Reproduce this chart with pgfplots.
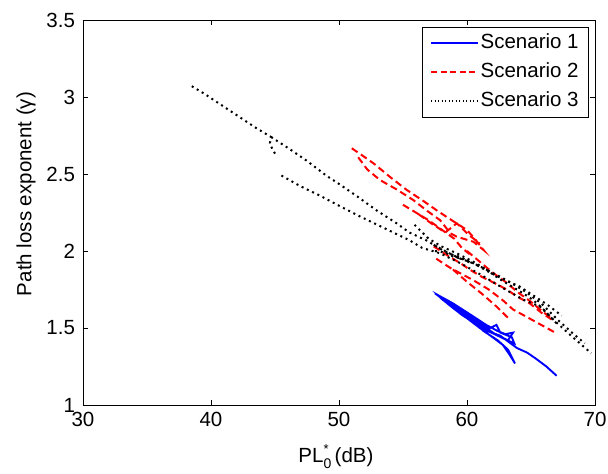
\documentclass[border=0pt]{standalone}
\usepackage{fontspec}
\setmainfont{Liberation Sans}
\usepackage{pgfplots}
\pgfplotsset{compat=1.18}
\tikzset{
  sa/.style={color=blue, line width=1.9pt, solid},
  sb/.style={color=red, line width=2pt, dash pattern=on 7pt off 4pt},
  sc/.style={color=black, line width=2pt, dash pattern=on 2pt off 3.8pt},
}
\newcommand{\ff}{\fontsize{20.5}{24}\selectfont}
\begin{document}
\ff
\begin{tikzpicture}
\useasboundingbox (-83pt,-69pt) rectangle (525pt,405pt);
\begin{axis}[
  scale only axis, width=512pt, height=385pt,
  xmin=30, xmax=70, ymin=1, ymax=3.5,
  xtick={30,40,50,60,70}, ytick={1,1.5,2,2.5,3,3.5},
  tick align=inside, major tick length=5pt,
  tick style={black, line width=0.5pt},
  axis line style={black, line width=0.6pt},
  /pgf/number format/assume math mode=true,
  tick label style={font=\ff},
  yticklabel style={xshift=-1pt},
  label style={font=\ff},
  xlabel={PL\rlap{\raisebox{9pt}{\fontsize{13}{13}\selectfont *}}\raisebox{-6pt}{\fontsize{14}{14}\selectfont 0}\,(dB)},
  ylabel={Path loss exponent (γ)},
  xlabel style={at={(axis description cs:0.494,-0.135)}, anchor=center},
  ylabel style={at={(axis description cs:-0.111,0.548)}, anchor=center},
  legend style={at={(rel axis cs:0.988,0.982)}, anchor=north east,
    font=\ff, cells={anchor=west}, row sep=7pt, inner xsep=8pt, inner ysep=5pt},
  legend image code/.code={\draw[#1] (0pt,0pt) -- (47pt,0pt);},
]
\addlegendimage{color=blue, line width=1.3pt, solid}\addlegendentry{Scenario 1}
\addlegendimage{color=red, line width=1.3pt, dash pattern=on 6pt off 3.5pt}\addlegendentry{Scenario 2}
\addlegendimage{color=black, line width=1.3pt, dash pattern=on 1.3pt off 2.2pt}\addlegendentry{Scenario 3}

% Scenario 1
\addplot[sa, forget plot] coordinates {
(57.5,1.725) (58.3,1.675) (59.2,1.630) (60.0,1.590) (60.9,1.545) (61.8,1.500)
(62.3,1.520) (62.6,1.470) (63.5,1.440) (63.7,1.400) (62.9,1.430) (61.9,1.470)
(60.8,1.520) (59.6,1.585) (58.6,1.650) (57.9,1.700) (58.8,1.640) (59.9,1.570)
(61.0,1.500) (62.0,1.440) (62.8,1.390) (63.3,1.330) (63.75,1.270) (63.2,1.360)
(62.4,1.420) (61.3,1.480) (60.2,1.560) (59.1,1.620) (58.0,1.690) (57.7,1.715)
(58.9,1.660) (60.4,1.580) (61.5,1.520) (62.4,1.480) (63.0,1.460) (63.6,1.470)
(63.2,1.420) (62.2,1.460) (61.0,1.530) (59.8,1.600) (58.5,1.680) (59.4,1.615)
(60.6,1.545) (61.6,1.480) (62.6,1.450) (63.9,1.370) (64.7,1.340) (65.4,1.300)
(66.2,1.250) (67.0,1.190)};

% Scenario 2
\addplot[sb, forget plot] coordinates {
(51.0,2.667) (52.0,2.610) (52.7,2.569) (54.0,2.480) (55.3,2.396) (56.5,2.330)
(57.6,2.266) (58.8,2.200) (60.0,2.136) (60.6,2.080) (61.3,2.006) (60.5,2.060)
(59.2,2.093) (58.7,2.115) (57.9,2.200) (56.9,2.260) (55.8,2.331) (54.5,2.400)
(53.2,2.461) (52.2,2.530) (51.4,2.620)};
\addplot[sb, forget plot] coordinates {
(55.0,2.30) (56.0,2.25) (57.0,2.20) (58.0,2.14) (59.0,2.08) (59.6,2.02) (60.2,1.98)};
\addplot[sb, forget plot] coordinates {
(56.2,2.24) (57.2,2.18) (58.3,2.12) (59.2,2.18) (60.2,2.10) (61.0,2.05)};
\addplot[sb, forget plot] coordinates {
(57.4,2.03) (58.5,1.97) (59.5,1.92) (60.2,1.88) (61.2,1.83) (62.2,1.79) (63.1,1.75)
(64.0,1.70) (64.9,1.66) (65.8,1.60) (66.7,1.55)};
\addplot[sb, forget plot] coordinates {
(57.6,1.95) (58.7,1.89) (59.6,1.85) (60.5,1.81) (61.7,1.75) (62.8,1.68) (63.6,1.62)
(64.6,1.575) (65.8,1.52) (67.0,1.465)};
\addplot[sb, forget plot] coordinates {
(58.9,1.88) (60.0,1.80) (61.2,1.72) (62.3,1.64) (63.4,1.55)};
\addplot[sb, forget plot] coordinates {
(60.0,2.00) (61.0,1.93) (62.0,1.86) (63.0,1.80) (64.0,1.73) (65.0,1.67) (66.0,1.60) (66.7,1.56)};

% Scenario 3
\addplot[sc, forget plot] coordinates {
(38.5,3.07) (39.5,3.02) (40.5,2.965) (41.5,2.91) (42.5,2.855) (43.5,2.80) (44.3,2.76)
(44.7,2.74) (44.6,2.70) (44.8,2.66) (45.1,2.62)};
\addplot[sc, forget plot] coordinates {
(44.7,2.74) (46.0,2.67) (47.5,2.585) (49.0,2.49) (50.1,2.43) (51.5,2.35) (53.0,2.26)
(54.5,2.18) (55.5,2.12) (56.8,2.07) (58.0,2.01) (59.2,1.96) (60.5,1.92) (61.8,1.86)
(63.0,1.81) (64.1,1.77) (65.2,1.71) (66.3,1.65) (67.4,1.58)};
\addplot[sc, forget plot] coordinates {
(45.5,2.49) (47.0,2.42) (48.5,2.36) (50.1,2.29) (51.5,2.23) (53.0,2.17) (54.5,2.11)
(55.5,2.07) (56.5,2.02) (57.9,1.985) (59.5,1.92) (61.0,1.85) (61.8,1.81) (63.0,1.75)
(64.5,1.68) (65.7,1.64) (66.8,1.55) (68.0,1.46) (69.7,1.336)};
\addplot[sc, forget plot] coordinates {
(55.9,2.17) (57.0,2.08) (58.0,2.03) (59.2,1.985) (60.5,1.93) (61.5,1.88) (63.1,1.81)
(64.5,1.74) (65.8,1.66) (67.0,1.56) (68.2,1.47) (69.2,1.40)};
\addplot[sc, forget plot] coordinates {
(57.4,2.04) (58.5,1.99) (59.5,1.95) (60.5,1.92) (61.5,1.88) (62.5,1.82) (63.5,1.77)
(64.3,1.73) (65.2,1.68) (66.1,1.61) (67.0,1.53)};
\addplot[sc, forget plot] coordinates {
(57.5,2.00) (58.3,1.99) (59.0,1.96) (59.7,1.95) (60.3,1.92) (60.0,1.94) (59.2,1.97) (58.6,1.98)};
\end{axis}
\end{tikzpicture}
\end{document}
